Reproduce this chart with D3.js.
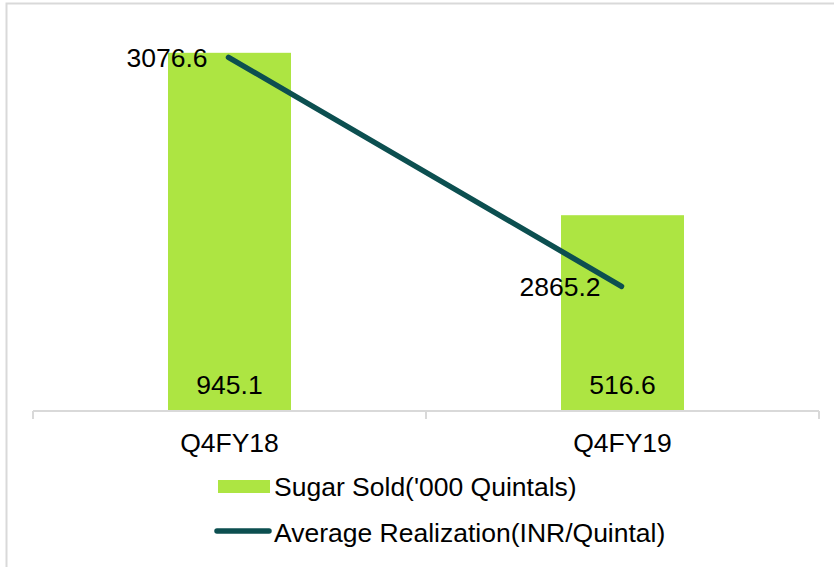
<!DOCTYPE html>
<html>
<head>
<meta charset="utf-8">
<script src="https://cdn.jsdelivr.net/npm/d3@7"></script>
<style>
  body { margin: 0; background: #fff; }
  svg { display: block; font-family: "Liberation Sans", Arial, sans-serif; }
</style>
</head>
<body>
<script>
// chart data
const categories = ["Q4FY18", "Q4FY19"];
const sugarSold = [945.1, 516.6];
const avgRealization = [3076.6, 2865.2];
const seriesNames = ["Sugar Sold('000 Quintals)", "Average Realization(INR/Quintal)"];

const width = 834, height = 567;
const barColor = "#ade542";
const lineColor = "#0c4f50";
const fontSize = 26.5;

const svg = d3.select("body").append("svg")
    .attr("width", width)
    .attr("height", height);

// chart border (only top/left visible in the frame)
svg.append("rect")
    .attr("x", 6.5).attr("y", 3.5)
    .attr("width", width + 20).attr("height", height + 20)
    .attr("fill", "none")
    .attr("stroke", "#d9d9d9")
    .attr("stroke-width", 2);

// plot area
const plot = { left: 33, right: 819, top: 32, bottom: 411 };

const x = d3.scaleBand()
    .domain(categories)
    .range([plot.left, plot.right]);

const y = d3.scaleLinear()
    .domain([0, 1000])
    .range([plot.bottom, plot.top]);

const y2 = d3.scaleLinear()
    .domain([2750, 3100])
    .range([plot.bottom, plot.top]);

const barWidth = 123;

// bars
svg.append("g")
    .selectAll("rect")
    .data(sugarSold)
    .enter().append("rect")
    .attr("x", (d, i) => x(categories[i]) + x.bandwidth() / 2 - barWidth / 2)
    .attr("y", d => y(d))
    .attr("width", barWidth)
    .attr("height", d => y(0) - y(d))
    .attr("fill", barColor);

// category axis
const axis = svg.append("g")
    .attr("transform", `translate(0,${plot.bottom})`)
    .call(d3.axisBottom(x).tickSize(0).tickSizeOuter(0).tickPadding(0));
axis.select(".domain")
    .attr("stroke", "#d9d9d9")
    .attr("stroke-width", 2)
    .attr("d", `M${plot.left},0H${plot.right}`);
axis.selectAll(".tick text").remove();

// tick marks between categories
const tickPos = [plot.left].concat(categories.map(c => x(c) + x.bandwidth()));
axis.selectAll(".sep")
    .data(tickPos)
    .enter().append("line")
    .attr("class", "sep")
    .attr("x1", d => d).attr("x2", d => d)
    .attr("y1", 0).attr("y2", 8)
    .attr("stroke", "#d9d9d9")
    .attr("stroke-width", 2);

// category labels
svg.append("g")
    .selectAll("text")
    .data(categories)
    .enter().append("text")
    .attr("x", d => x(d) + x.bandwidth() / 2)
    .attr("y", 452)
    .attr("text-anchor", "middle")
    .attr("font-size", fontSize)
    .text(d => d);

// bar value labels
svg.append("g")
    .selectAll("text")
    .data(sugarSold)
    .enter().append("text")
    .attr("x", (d, i) => x(categories[i]) + x.bandwidth() / 2)
    .attr("y", 394)
    .attr("text-anchor", "middle")
    .attr("font-size", fontSize)
    .text(d => d.toFixed(1));

// line series
const line = d3.line()
    .x((d, i) => x(categories[i]) + x.bandwidth() / 2 - 1)
    .y(d => y2(d));

svg.append("path")
    .datum(avgRealization)
    .attr("d", line)
    .attr("fill", "none")
    .attr("stroke", lineColor)
    .attr("stroke-width", 5.5)
    .attr("stroke-linecap", "round");

// line value labels (left of point)
svg.append("g")
    .selectAll("text")
    .data(avgRealization)
    .enter().append("text")
    .attr("x", (d, i) => x(categories[i]) + x.bandwidth() / 2 - 22)
    .attr("y", d => y2(d))
    .attr("dy", "0.35em")
    .attr("text-anchor", "end")
    .attr("font-size", fontSize)
    .text(d => d.toFixed(1));

// legend
const legend = svg.append("g");
legend.append("rect")
    .attr("x", 218).attr("y", 480)
    .attr("width", 52).attr("height", 13)
    .attr("fill", barColor);
legend.append("line")
    .attr("x1", 217).attr("x2", 269)
    .attr("y1", 531).attr("y2", 531)
    .attr("stroke", lineColor)
    .attr("stroke-width", 5.5)
    .attr("stroke-linecap", "round");
legend.selectAll("text")
    .data(seriesNames)
    .enter().append("text")
    .attr("x", 274)
    .attr("y", (d, i) => 496 + i * 46)
    .attr("font-size", fontSize)
    .text(d => d);
</script>
</body>
</html>
